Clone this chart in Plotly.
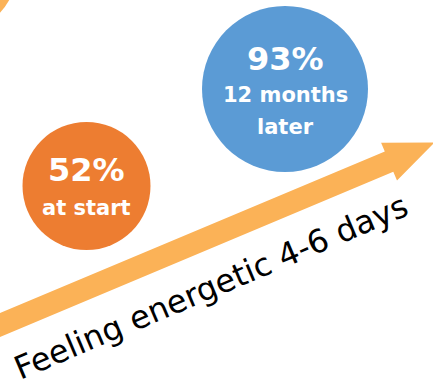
import math
import plotly.graph_objects as go

# ---- data ----
values = [52, 93]
value_labels = ["52%", "93%"]
sub_labels = [["at start"], ["12 months", "later"]]
caption = "Feeling energetic 4-6 days"

W, H = 433, 380
ARROW = "#FBB257"
COLORS = ["#ED7D31", "#5B9BD5"]

fig = go.Figure()
fig.add_trace(go.Scatter(x=[0, W], y=[0, H], mode="markers", marker=dict(opacity=0), hoverinfo="skip", showlegend=False))

shapes = []
# partial decorative circle in the corner
shapes.append(dict(type="circle", xref="x", yref="y", x0=-45 - 62, x1=-45 + 62, y0=-30 - 62, y1=-30 + 62,
                   fillcolor=ARROW, line=dict(width=0), layer="above"))

# arrow
ang = math.atan(0.42)
c, s = math.cos(ang), math.sin(ang)
x0, y0 = 0.0, 325.0
L = 471.0
hl, hw, sw = 49.0, 20.5, 11.0
def pt(u, v):
    return (x0 + u * c + v * s, y0 - u * s + v * c)
pts = [pt(-20, -sw), pt(L - hl, -sw), pt(L - hl, -hw), pt(L, 0), pt(L - hl, hw), pt(L - hl, sw), pt(-20, sw)]
path = "M " + " L ".join(f"{px:.1f},{py:.1f}" for px, py in pts) + " Z"
shapes.append(dict(type="path", xref="x", yref="y", path=path, fillcolor=ARROW, line=dict(width=0), layer="above"))

# circles
circ = [(86.5, 186, 64), (285, 89, 83)]
for (cx, cy, r), col in zip(circ, COLORS):
    shapes.append(dict(type="circle", xref="x", yref="y", x0=cx - r, x1=cx + r, y0=cy - r, y1=cy + r,
                       fillcolor=col, line=dict(width=0), layer="above"))

ann = []
font = "DejaVu Sans"
# value labels
val_pos = [(86.5, 170), (285, 59)]
for (x, y), t in zip(val_pos, value_labels):
    ann.append(dict(x=x, y=y, xref="x", yref="y", text=f"<b>{t}</b>", showarrow=False,
                    font=dict(family=font, size=32, color="white"), xanchor="center", yanchor="middle"))
sub_pos = [[(86.5, 208)], [(285, 95), (285, 127)]]
for poss, lines in zip(sub_pos, sub_labels):
    for (x, y), t in zip(poss, lines):
        ann.append(dict(x=x, y=y, xref="x", yref="y", text=f"<b>{t}</b>", showarrow=False,
                        font=dict(family=font, size=21, color="white"), xanchor="center", yanchor="middle"))

ann.append(dict(x=211, y=287, xref="x", yref="y", text=caption, showarrow=False, textangle=-23,
                font=dict(family=font, size=32, color="black"), xanchor="center", yanchor="middle"))

fig.update_layout(
    width=W, height=H, margin=dict(l=0, r=0, t=0, b=0),
    paper_bgcolor="white", plot_bgcolor="white",
    xaxis=dict(range=[0, W], visible=False, fixedrange=True),
    yaxis=dict(range=[H, 0], visible=False, fixedrange=True),
    shapes=shapes, annotations=ann, showlegend=False,
)
fig.write_html("out.html", config={"displayModeBar": False})
